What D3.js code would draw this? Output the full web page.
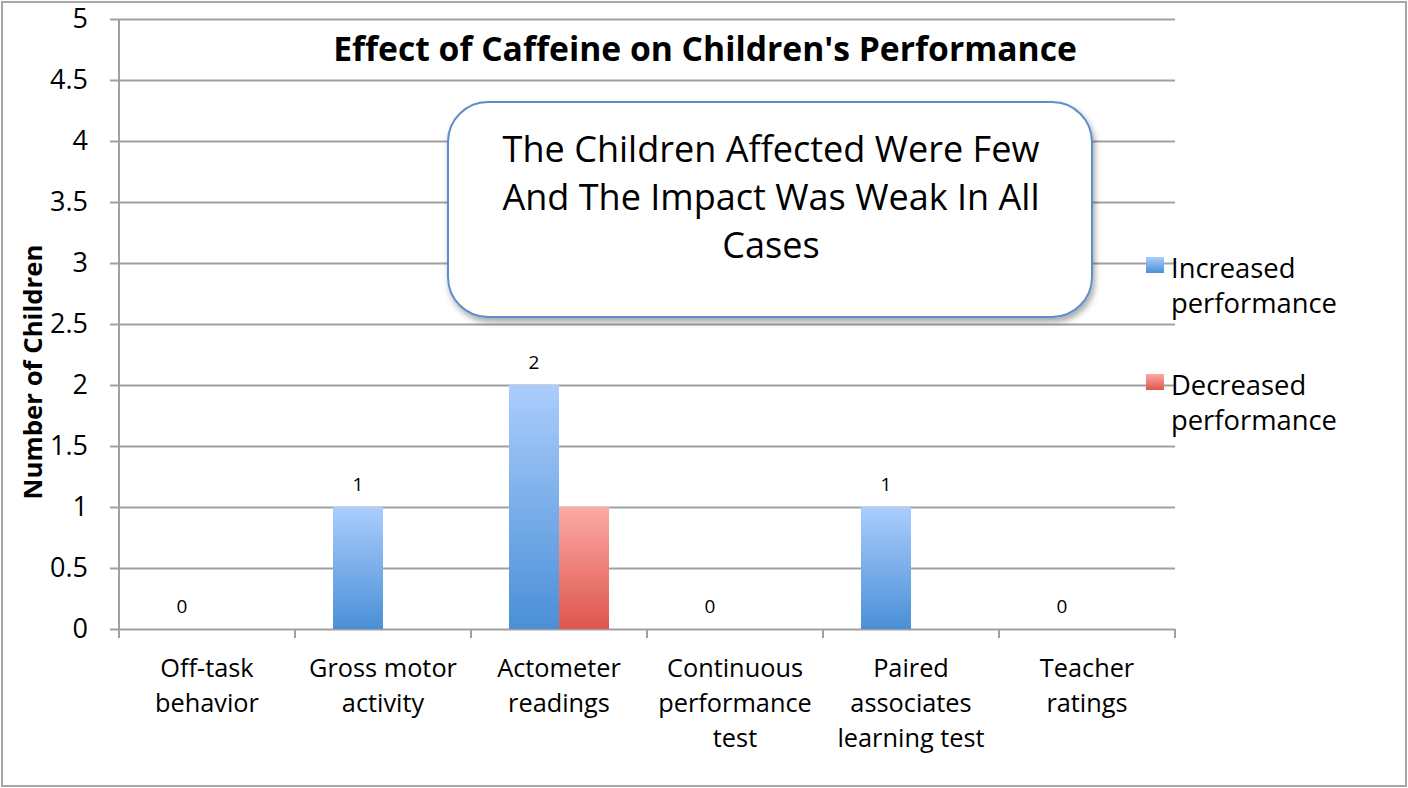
<!DOCTYPE html>
<html><head><meta charset="utf-8">
<script src="https://cdn.jsdelivr.net/npm/d3@7"></script>
<style>
html,body{margin:0;padding:0;background:#fff;}
svg{display:block;font-family:"Open Sans",sans-serif;}
</style></head>
<body>
<svg id="chart" width="1408" height="788"></svg>
<script>
const categories = ["Off-task\nbehavior", "Gross motor\nactivity", "Actometer\nreadings", "Continuous\nperformance\ntest", "Paired\nassociates\nlearning test", "Teacher\nratings"];
const seriesNames = ["Increased performance", "Decreased performance"];
const increased = [0, 1, 2, 0, 1, 0];
const decreased = [0, 0, 1, 0, 0, 0];
const yTicks = [0, 0.5, 1, 1.5, 2, 2.5, 3, 3.5, 4, 4.5, 5];
const titleText = "Effect of Caffeine on Children's Performance";
const yTitle = "Number of Children";
const calloutLines = ["The Children Affected Were Few", "And The Impact Was Weak In All", "Cases"];

(function () {
const svg = d3.select("#chart");
const W = 1408, H = 788;
const pL = 119, pR = 1175, pT = 19, pB = 629;

// font size that makes a sample string a given pixel width
function fitSize(txt, weight, target) {
  const t = svg.append("text").attr("font-size", 100).attr("font-weight", weight).text(txt);
  const w = t.node().getComputedTextLength();
  t.remove();
  return 100 * target / w;
}
const fsTitle = fitSize(titleText, "bold", 744);
const fsYTitle = fitSize(yTitle, "bold", 255);
const fsTick = fitSize("4.5", "normal", 38);
const fsCat = fitSize("Gross motor", "normal", 148);
const fsCallout = fitSize(calloutLines[0], "normal", 537);
const fsLegend = fitSize("performance", "normal", 166);

// outer border
svg.append("rect").attr("x", 2).attr("y", 2).attr("width", W - 4).attr("height", H - 4)
  .attr("fill", "#fff").attr("stroke", "#a6a6a6").attr("stroke-width", 2);

const defs = svg.append("defs");
function grad(id, c1, c2) {
  const g = defs.append("linearGradient").attr("id", id).attr("x1", 0).attr("y1", 0).attr("x2", 0).attr("y2", 1);
  g.append("stop").attr("offset", "0%").attr("stop-color", c1);
  g.append("stop").attr("offset", "100%").attr("stop-color", c2);
}
grad("gBlue", "#abcdfd", "#4a8fd7");
grad("gRed", "#fca9a5", "#de564d");
const f = defs.append("filter").attr("id", "shadow").attr("x", "-10%").attr("y", "-10%").attr("width", "125%").attr("height", "130%");
f.append("feDropShadow").attr("dx", 2).attr("dy", 4).attr("stdDeviation", 3).attr("flood-color", "#000").attr("flood-opacity", 0.35);

const x0 = d3.scaleBand().domain(d3.range(categories.length)).range([pL, pR]).paddingInner(0).paddingOuter(0);
const bandW = x0.bandwidth();
const barW = 50;
const x1 = d3.scaleBand().domain([0, 1]).range([bandW / 2 - barW, bandW / 2 + barW]);
const y = d3.scaleLinear().domain([0, 5]).range([pB, pT]);

// gridlines + y axis
const yAxis = d3.axisLeft(y).tickValues(yTicks).tickSize(-(pR - pL)).tickPadding(31)
  .tickFormat(d => d3.format("~g")(d));
const gy = svg.append("g").attr("transform", `translate(${pL},0)`).call(yAxis);
gy.select(".domain").remove();
gy.selectAll(".tick line").attr("stroke", "#a0a0a0").attr("stroke-width", 2).attr("x1", -9);
gy.selectAll(".tick text").attr("font-size", fsTick).attr("fill", "#000").attr("font-family", "Open Sans");
svg.append("line").attr("x1", pL).attr("x2", pL).attr("y1", pT).attr("y2", pB)
  .attr("stroke", "#a0a0a0").attr("stroke-width", 2);

// x axis
const xAxis = d3.axisBottom(x0).tickValues([]).tickSize(0);
const gx = svg.append("g").attr("transform", `translate(0,${pB})`).call(xAxis);
gx.select(".domain").remove();
const boundaries = d3.range(categories.length + 1).map(i => pL + i * bandW);
svg.append("g").selectAll("line").data(boundaries).join("line")
  .attr("x1", d => d).attr("x2", d => d).attr("y1", pB).attr("y2", pB + 9)
  .attr("stroke", "#a0a0a0").attr("stroke-width", 2);

const catLabels = svg.append("g").selectAll("text").data(categories).join("text")
  .attr("text-anchor", "middle").attr("font-size", fsCat).attr("fill", "#000")
  .attr("x", (d, i) => x0(i) + bandW / 2).attr("y", 677);
catLabels.each(function(d) {
  const t = d3.select(this);
  d.split("\n").forEach((ln, k) => {
    t.append("tspan").attr("x", t.attr("x")).attr("dy", k === 0 ? 0 : 35).text(ln);
  });
});

// bars
const data = categories.map((c, i) => [increased[i], decreased[i]]);
const groups = svg.append("g").selectAll("g").data(data).join("g")
  .attr("transform", (d, i) => `translate(${x0(i)},0)`);
groups.selectAll("rect").data(d => d.map((v, s) => ({v, s}))).join("rect")
  .attr("x", d => x1(d.s)).attr("width", x1.bandwidth())
  .attr("y", d => y(d.v)).attr("height", d => y(0) - y(d.v))
  .attr("fill", d => d.s === 0 ? "url(#gBlue)" : "url(#gRed)");

// data labels (increased series)
svg.append("g").selectAll("text").data(increased).join("text")
  .attr("x", (d, i) => x0(i) + x1(0) + x1.bandwidth() / 2)
  .attr("y", d => y(d) - 16)
  .attr("text-anchor", "middle").attr("font-size", 19).attr("fill", "#000")
  .text(d => d);

// title
svg.append("text").attr("x", 705).attr("y", 61).attr("text-anchor", "middle")
  .attr("font-size", fsTitle).attr("font-weight", "bold").attr("fill", "#000").text(titleText);

// y title
svg.append("text").attr("transform", "translate(42,372) rotate(-90)").attr("text-anchor", "middle")
  .attr("font-size", fsYTitle).attr("font-weight", "bold").attr("fill", "#000").text(yTitle);

// callout
svg.append("rect").attr("x", 448).attr("y", 102).attr("width", 644).attr("height", 215)
  .attr("rx", 40).attr("ry", 40).attr("fill", "#fff").attr("stroke", "#5b8fc9").attr("stroke-width", 2)
  .attr("filter", "url(#shadow)");
svg.append("g").selectAll("text").data(calloutLines).join("text")
  .attr("x", 771).attr("y", (d, i) => 162 + i * 48).attr("text-anchor", "middle")
  .attr("font-size", fsCallout).attr("fill", "#000").text(d => d);

// legend
const legend = svg.append("g").selectAll("g").data(seriesNames).join("g")
  .attr("transform", (d, i) => `translate(1146,${257 + i * 117})`);
legend.append("rect").attr("width", 18).attr("height", 16)
  .attr("fill", (d, i) => i === 0 ? "url(#gBlue)" : "url(#gRed)");
legend.append("text").attr("x", 25).attr("y", 21).attr("font-size", fsLegend).attr("fill", "#000")
  .each(function(d) {
    const t = d3.select(this);
    const parts = d.split(" ");
    t.append("tspan").attr("x", 25).attr("dy", 0).text(parts[0]);
    t.append("tspan").attr("x", 25).attr("dy", 35).text(parts.slice(1).join(" "));
  });
})();
</script>
</body></html>
